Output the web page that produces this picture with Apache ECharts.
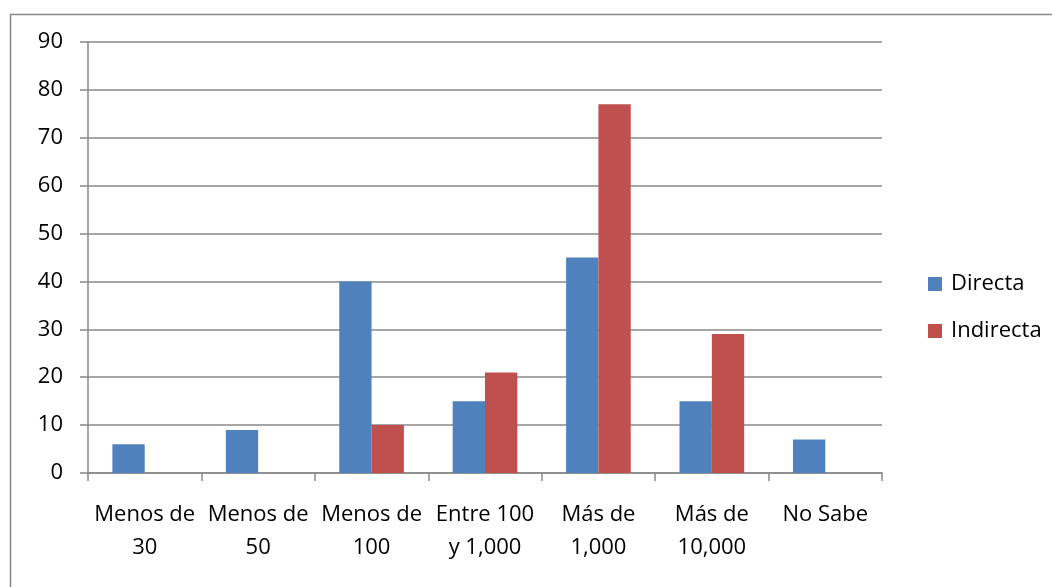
<!DOCTYPE html>
<html><head><meta charset="utf-8">
<script src="https://cdn.jsdelivr.net/npm/echarts@6/dist/echarts.min.js"></script>
<style>html,body{margin:0;padding:0;background:#fff}#c{width:1052px;height:587px}</style>
</head><body><div id="c"></div>
<script>
var categories = ['Menos de\n30', 'Menos de\n50', 'Menos de\n100', 'Entre 100\ny 1,000', 'Más de\n1,000', 'Más de\n10,000', 'No Sabe'];
var directa = [6, 9, 40, 15, 45, 15, 7];
var indirecta = ['-', '-', 10, 21, 77, 29, '-'];
var yTicks = {min: 0, max: 90, interval: 10};

var font = '"Open Sans", sans-serif';
var chart = echarts.init(document.getElementById('c'), null, {renderer: 'canvas'});
chart.setOption({
  animation: false,
  backgroundColor: '#fff',
  graphic: [{
    type: 'rect', left: 8, top: 12, shape: {width: 1100, height: 700},
    style: {fill: 'none', stroke: '#888', lineWidth: 1.5}, silent: true
  }],
  grid: {left: 88, right: 170, top: 42, bottom: 114},
  legend: {
    orient: 'vertical', left: 923, top: 268,
    itemWidth: 14, itemHeight: 14, itemGap: 25,
    icon: 'rect',
    textStyle: {fontFamily: font, fontSize: 22, lineHeight: 22, color: '#000', padding: [0, 0, 0, 4]},
    data: ['Directa', 'Indirecta']
  },
  xAxis: {
    type: 'category', data: categories,
    axisLine: {lineStyle: {color: '#888', width: 1.5}},
    axisTick: {show: true, interval: 0, length: 8, lineStyle: {color: '#888', width: 1.5}},
    axisLabel: {interval: 0, fontFamily: font, fontSize: 22, color: '#000', lineHeight: 33, margin: 25}
  },
  yAxis: {
    type: 'value', min: yTicks.min, max: yTicks.max, interval: yTicks.interval,
    axisLine: {show: true, lineStyle: {color: '#888', width: 1.5}},
    axisTick: {show: true, length: 8, lineStyle: {color: '#888', width: 1.5}},
    splitLine: {lineStyle: {color: '#888', width: 1.5}},
    axisLabel: {fontFamily: font, fontSize: 22, color: '#000', margin: 25}
  },
  series: [
    {name: 'Directa', type: 'bar', data: directa, itemStyle: {color: '#4F81BD'}, barGap: '0%', barCategoryGap: '43%'},
    {name: 'Indirecta', type: 'bar', data: indirecta, itemStyle: {color: '#C0504D'}, barGap: '0%', barCategoryGap: '43%'}
  ]
});
</script></body></html>
